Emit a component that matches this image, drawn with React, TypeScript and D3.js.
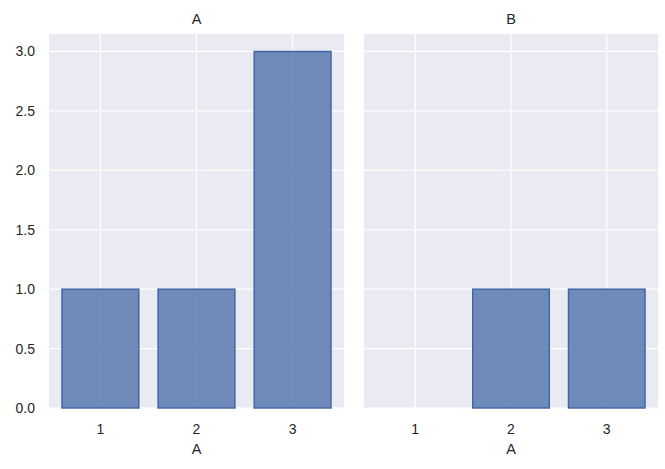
import React from "react";
import * as d3 from "d3";

const categories = [1, 2, 3];
const panelTitles = ["A", "B"];
const countsA = [1, 1, 3];
const countsB = [0, 1, 1];
const yTicks = [0, 0.5, 1.0, 1.5, 2.0, 2.5, 3.0];

const W = 665, H = 469;
const panels = [
  { title: panelTitles[0], values: countsA, x0: 49, x1: 344, showY: true },
  { title: panelTitles[1], values: countsB, x0: 364, x1: 658, showY: false },
];
const top = 34, bottom = 408;
const font = "'Liberation Sans', Arial, sans-serif";

export default function App() {
  const y = d3.scaleLinear().domain([0, 3.147]).range([bottom, top]);
  return (
    <svg width={W} height={H} style={{ position: "absolute", left: 0, top: 0 }}>
      <rect width={W} height={H} fill="#fff" />
      {panels.map((p, pi) => {
        const x = d3.scaleLinear().domain([0.465, 3.535]).range([p.x0, p.x1]);
        return (
          <g key={pi}>
            <rect x={p.x0} y={top} width={p.x1 - p.x0} height={bottom - top} fill="#eaeaf2" />
            {yTicks.map((t) => (
              <line key={"gy" + t} x1={p.x0} x2={p.x1} y1={y(t)} y2={y(t)} stroke="#fff" strokeWidth={1.2} />
            ))}
            {categories.map((c) => (
              <line key={"gx" + c} x1={x(c)} x2={x(c)} y1={top} y2={bottom} stroke="#fff" strokeWidth={1.2} />
            ))}
            {categories.map((c, i) =>
              p.values[i] > 0 ? (
                <rect
                  key={"b" + c}
                  x={x(c - 0.4)}
                  width={x(c + 0.4) - x(c - 0.4)}
                  y={y(p.values[i])}
                  height={y(0) - y(p.values[i])}
                  fill="#4a6ea8"
                  fillOpacity={0.78}
                  stroke="#3f64a6"
                  strokeWidth={1.4}
                />
              ) : null
            )}
            {categories.map((c) => (
              <text key={"xt" + c} x={x(c)} y={433.5} textAnchor="middle" fontFamily={font} fontSize={14} fill="#262626">
                {c}
              </text>
            ))}
            <text x={(p.x0 + p.x1) / 2} y={453.5} textAnchor="middle" fontFamily={font} fontSize={14.5} fill="#262626">
              A
            </text>
            <text x={(p.x0 + p.x1) / 2} y={23.5} textAnchor="middle" fontFamily={font} fontSize={14.5} fill="#262626">
              {p.title}
            </text>
            {p.showY &&
              yTicks.map((t) => (
                <text key={"yt" + t} x={35} y={y(t) + 5} textAnchor="end" fontFamily={font} fontSize={14} fill="#262626">
                  {t.toFixed(1)}
                </text>
              ))}
          </g>
        );
      })}
    </svg>
  );
}
